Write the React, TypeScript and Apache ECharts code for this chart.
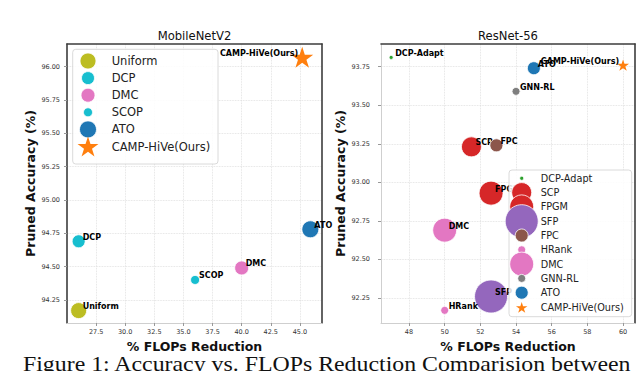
import React, { useEffect, useRef } from "react";
import * as echarts from "echarts";

// ---------- data ----------
const leftMethods = ["Uniform", "DCP", "DMC", "SCOP", "ATO", "CAMP-HiVe(Ours)"];
const leftFlops = [26.0, 26.0, 40.0, 36.0, 45.9, 45.2];
const leftAcc = [94.17, 94.69, 94.49, 94.4, 94.78, 96.07];
const leftXTicks = [27.5, 30.0, 32.5, 35.0, 37.5, 40.0, 42.5, 45.0];
const leftYTicks = [94.25, 94.5, 94.75, 95.0, 95.25, 95.5, 95.75, 96.0];

const rightMethods = ["DCP-Adapt", "SCP", "FPGM", "SFP", "FPC", "HRank", "DMC", "GNN-RL", "ATO", "CAMP-HiVe(Ours)"];
const rightFlops = [47.0, 51.5, 52.6, 52.6, 52.9, 50.0, 50.0, 54.0, 55.0, 60.0];
const rightAcc = [93.81, 93.23, 92.93, 92.26, 93.24, 92.17, 92.69, 93.59, 93.74, 93.76];
const rightXTicks = [48, 50, 52, 54, 56, 58, 60];
const rightYTicks = [92.25, 92.5, 92.75, 93.0, 93.25, 93.5, 93.75];

// ---------- styles ----------
const leftColors = ["#bcbd22", "#17becf", "#e377c2", "#17becf", "#1f77b4", "#ff7f0e"];
const leftSizes = [16, 13, 14, 9, 17, 22];
const rightColors = ["#2ca02c", "#d62728", "#d62728", "#9467bd", "#8c564b", "#e377c2", "#e377c2", "#7f7f7f", "#1f77b4", "#ff7f0e"];
const rightSizes = [4, 20, 24, 33, 13, 8, 24, 8, 13, 12];

const OURS = "CAMP-HiVe(Ours)";
const FONT = "DejaVu Sans";

function starPoints(r: number, cx: number, cy: number): number[][] {
  const pts: number[][] = [];
  for (let i = 0; i < 10; i++) {
    const rad = i % 2 === 0 ? r : r * 0.382;
    const a = -Math.PI / 2 + (i * Math.PI) / 5;
    pts.push([cx + rad * Math.cos(a), cy + rad * Math.sin(a)]);
  }
  return pts;
}
const starPath =
  "path://" +
  starPoints(10, 10, 10)
    .map((p, i) => (i === 0 ? "M" : "L") + p[0].toFixed(3) + " " + p[1].toFixed(3))
    .join(" ") +
  " Z";

function makeSeries(methods: string[], flops: number[], acc: number[], colors: string[], sizes: number[], axisIdx: number) {
  return methods.map((m, i) => {
    const ours = m === OURS;
    return {
      type: "scatter",
      name: m,
      xAxisIndex: axisIdx,
      yAxisIndex: axisIdx,
      data: [[flops[i], acc[i]]],
      symbol: ours ? starPath : "circle",
      symbolKeepAspect: true,
      symbolSize: sizes[i],
      z: 3 + i,
      itemStyle: { color: colors[i], borderColor: "#fff", borderWidth: ours ? 0 : 0.8, opacity: 1 },
      label: {
        show: true,
        formatter: m,
        position: "inside",
        align: ours ? "right" : "left",
        verticalAlign: "middle",
        offset: ours ? [-4, -4] : [4, -4],
        fontSize: 8,
        fontWeight: "bold",
        fontFamily: FONT,
        color: "#000",
      },
      emphasis: { disabled: true },
    };
  });
}

function legendGraphics(methods: string[], colors: string[], sizes: number[], box: any, mx: number, tx: number, y0: number, dy: number, fs: number) {
  const els: any[] = [
    {
      type: "rect",
      z: 100,
      shape: { x: box.x, y: box.y, width: box.w, height: box.h, r: 3 },
      style: { fill: "rgba(255,255,255,0.85)", stroke: "#d0d0d0", lineWidth: 0.8 },
    },
  ];
  methods.forEach((m, i) => {
    const cy = y0 + i * dy;
    if (m === OURS) {
      els.push({
        type: "polygon",
        z: 101,
        shape: { points: starPoints(sizes[i] / 2, mx, cy + 1) },
        style: { fill: colors[i] },
      });
    } else {
      els.push({
        type: "circle",
        z: 101,
        shape: { cx: mx, cy, r: sizes[i] / 2 },
        style: { fill: colors[i], stroke: "#fff", lineWidth: 0.8 },
      });
    }
  });
  methods.forEach((m, i) => {
    els.push({
      type: "text",
      z: 102,
      x: tx,
      y: y0 + i * dy,
      style: { text: m, fill: "#222", font: `${fs}px "${FONT}"`, verticalAlign: "middle", align: "left" },
    });
  });
  return els;
}

const splitStyle = { show: true, lineStyle: { color: "#dcdcdc", type: "dotted", width: 0.8 } };
const labelStyle = { fontSize: 6.5, color: "#333", fontFamily: FONT };
const nameStyle = { fontSize: 12.5, fontWeight: "bold", color: "#111", fontFamily: FONT };

function decorAxis(gridIndex: number, position: string) {
  return {
    type: "value",
    gridIndex,
    position,
    min: 0,
    max: 1,
    axisLine: { show: true, onZero: false, lineStyle: { color: "#3d3d3d", width: 1.6 } },
    axisTick: { show: false },
    axisLabel: { show: false },
    splitLine: { show: false },
  };
}

export default function App() {
  const ref = useRef<HTMLDivElement>(null);
  useEffect(() => {
    if (!ref.current) return;
    const chart = echarts.init(ref.current, null, { renderer: "svg" });
    const option: any = {
      animation: false,
      textStyle: { fontFamily: FONT },
      grid: [
        { left: 67, top: 44, width: 255, height: 279, show: false },
        { left: 381, top: 44, width: 254, height: 279, show: false },
      ],
      xAxis: [
        {
          type: "value",
          gridIndex: 0,
          min: 25.0,
          max: 46.9,
          name: "% FLOPs Reduction",
          nameLocation: "middle",
          nameGap: 13,
          nameTextStyle: nameStyle,
          axisLine: { show: true, onZero: false, lineStyle: { color: "#cfcfcf", width: 1 } },
          axisTick: { show: true, length: 3, lineStyle: { color: "#999" }, customValues: leftXTicks },
          axisLabel: { ...labelStyle, margin: 5, customValues: leftXTicks, formatter: (v: number) => v.toFixed(1) },
          splitLine: splitStyle,
        },
        decorAxis(0, "top"),
        {
          type: "value",
          gridIndex: 1,
          min: 46.43,
          max: 60.67,
          name: "% FLOPs Reduction",
          nameLocation: "middle",
          nameGap: 13,
          nameTextStyle: nameStyle,
          axisLine: { show: true, onZero: false, lineStyle: { color: "#cfcfcf", width: 1 } },
          axisTick: { show: true, length: 3, lineStyle: { color: "#999" }, customValues: rightXTicks },
          axisLabel: { ...labelStyle, margin: 5, customValues: rightXTicks },
          splitLine: splitStyle,
        },
        decorAxis(1, "top"),
      ],
      yAxis: [
        {
          type: "value",
          gridIndex: 0,
          min: 94.077,
          max: 96.17,
          name: "Pruned Accuracy (%)",
          nameLocation: "middle",
          nameGap: 27,
          nameTextStyle: nameStyle,
          axisLine: { show: true, onZero: false, lineStyle: { color: "#3d3d3d", width: 1.6 } },
          axisTick: { show: true, length: 3, lineStyle: { color: "#999" }, customValues: leftYTicks },
          axisLabel: { ...labelStyle, margin: 7, customValues: leftYTicks, formatter: (v: number) => v.toFixed(2) },
          splitLine: splitStyle,
        },
        decorAxis(0, "right"),
        {
          type: "value",
          gridIndex: 1,
          min: 92.088,
          max: 93.897,
          name: "Pruned Accuracy (%)",
          nameLocation: "middle",
          nameGap: 29,
          nameTextStyle: nameStyle,
          axisLine: { show: true, onZero: false, lineStyle: { color: "#cfcfcf", width: 1 } },
          axisTick: { show: true, length: 3, lineStyle: { color: "#999" }, customValues: rightYTicks },
          axisLabel: { ...labelStyle, margin: 11, customValues: rightYTicks, formatter: (v: number) => v.toFixed(2) },
          splitLine: splitStyle,
        },
        decorAxis(1, "right"),
      ],
      series: [
        ...makeSeries(leftMethods, leftFlops, leftAcc, leftColors, leftSizes, 0),
        ...makeSeries(rightMethods, rightFlops, rightAcc, rightColors, rightSizes, 0).map((s: any) => ({
          ...s,
          xAxisIndex: 2,
          yAxisIndex: 2,
        })),
      ],
      graphic: [
        {
          type: "text",
          x: 194.5,
          y: 35.5,
          style: { text: "MobileNetV2", font: `11.6px "${FONT}"`, fill: "#111", align: "center", verticalAlign: "middle" },
        },
        {
          type: "text",
          x: 508,
          y: 35.5,
          style: { text: "ResNet-56", font: `11.6px "${FONT}"`, fill: "#111", align: "center", verticalAlign: "middle" },
        },
        {
          type: "text",
          x: 23,
          y: 364,
          scaleX: 1.135,
          style: {
            text: "Figure 1: Accuracy vs. FLOPs Reduction Comparision between",
            font: `21px "Liberation Serif"`,
            fill: "#111",
            align: "left",
            verticalAlign: "middle",
          },
        },
        ...legendGraphics(leftMethods, leftColors, leftSizes, { x: 72.7, y: 49.3, w: 145.3, h: 114.7 }, 88, 111.7, 61, 17.1, 11.5),
        ...legendGraphics(rightMethods, rightColors, rightSizes, { x: 509, y: 170, w: 122.7, h: 146.7 }, 521.7, 540.7, 178.3, 14.3, 9.7),
      ],
    };
    chart.setOption(option);
    return () => chart.dispose();
  }, []);
  return <div ref={ref} style={{ position: "absolute", left: 0, top: 0, width: 640, height: 371 }} />;
}
